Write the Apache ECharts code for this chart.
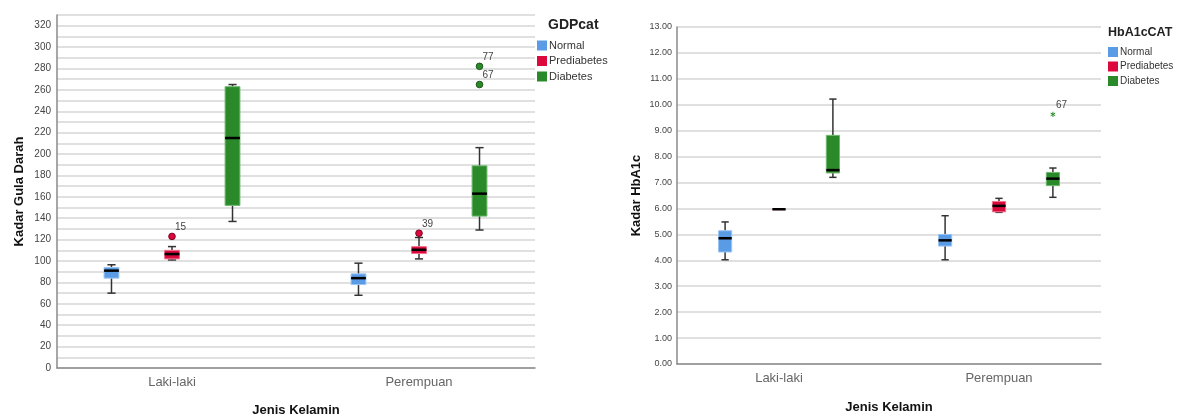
<!DOCTYPE html>
<html><head><meta charset="utf-8">
<script src="https://cdn.jsdelivr.net/npm/echarts@6/dist/echarts.min.js"></script>
<style>html,body{margin:0;padding:0;background:#fff}#c{width:1177px;height:414px}</style>
</head><body><div id="c"></div>
<script>
// ---------- DATA ----------
const categories = ['Laki-laki', 'Perempuan'];
const groupNames = ['Normal', 'Prediabetes', 'Diabetes'];

// Kadar Gula Darah (GDP) — [min, Q1, median, Q3, max] per category
const gdpNormal      = [[70, 84, 91, 94, 96.5], [68, 78, 84, 88, 98]];
const gdpPrediabetes = [[101, 102, 106.5, 110, 113.5], [102, 107, 110.5, 113.5, 122]];
const gdpDiabetes    = [[137, 152, 215, 263, 265], [129, 142, 163, 189, 206]];
// GDP outliers
const gdpOutCat    = [0, 1, 1, 1];
const gdpOutGroup  = [1, 1, 2, 2];
const gdpOutValue  = [123, 126, 282, 265];
const gdpOutLabel  = ['15', '39', '77', '67'];

// Kadar HbA1c — [min, Q1, median, Q3, max] per category
const hbNormal      = [[4.02, 4.32, 4.85, 5.14, 5.48], [4.02, 4.55, 4.77, 5.0, 5.72]];
const hbPrediabetes = [[5.97, 5.97, 5.97, 5.97, 5.97], [5.85, 5.87, 6.1, 6.27, 6.39]];
const hbDiabetes    = [[7.2, 7.37, 7.48, 8.82, 10.22], [6.43, 6.88, 7.15, 7.39, 7.56]];
// HbA1c extreme values
const hbOutCat   = [1];
const hbOutGroup = [2];
const hbOutValue = [9.63];
const hbOutLabel = ['67'];

// ---------- STYLE ----------
const FONT = "'Liberation Sans', Arial, sans-serif";
const fills   = ['#5a9be6', '#dc0a3c', '#2a8a2a'];
const strokes = ['#9cc4f2', '#f0728f', '#6fb86f'];
const darkPt  = ['#2a5f9e', '#7a0020', '#1a5a1a'];
const OFFSET = 0.245;  // group offset as share of band width
const BOXW = 0.06;     // box width as share of band width

function toRows(arr) { return arr.map((r, i) => [i].concat(r)); }

function boxRender(k) {
  return function (params, api) {
    const cat = api.value(0);
    const band = api.size([1, 0])[0];
    const cx = api.coord([cat, 0])[0] + (k - 1) * OFFSET * band;
    const w = BOXW * band;
    const y = i => api.coord([cat, api.value(i)])[1];
    const yMin = y(1), yQ1 = y(2), yMed = y(3), yQ3 = y(4), yMax = y(5);
    const capW = w * 0.55;
    const ws = { stroke: '#333', lineWidth: 1.5 };
    return { type: 'group', children: [
      { type: 'line', shape: { x1: cx, y1: yMax, x2: cx, y2: yQ3 }, style: ws },
      { type: 'line', shape: { x1: cx, y1: yQ1, x2: cx, y2: yMin }, style: ws },
      { type: 'line', shape: { x1: cx - capW / 2, y1: yMax, x2: cx + capW / 2, y2: yMax }, style: ws },
      { type: 'line', shape: { x1: cx - capW / 2, y1: yMin, x2: cx + capW / 2, y2: yMin }, style: ws },
      { type: 'rect', shape: { x: cx - w / 2, y: yQ3, width: w, height: Math.max(yQ1 - yQ3, 0.5) },
        style: { fill: fills[k], stroke: strokes[k], lineWidth: 1 } },
      { type: 'line', shape: { x1: cx - w / 2, y1: yMed, x2: cx + w / 2, y2: yMed },
        style: { stroke: '#000', lineWidth: 2.5 } }
    ]};
  };
}

function outRender(groups, labels, star) {
  return function (params, api) {
    const cat = api.value(0);
    const g = groups[params.dataIndex];
    const band = api.size([1, 0])[0];
    const p = api.coord([cat, api.value(1)]);
    const cx = p[0] + (g - 1) * OFFSET * band, cy = p[1];
    const children = [];
    if (star) {
      const r = 2.6;
      for (let a = 0; a < 3; a++) {
        const ang = Math.PI / 2 + a * Math.PI / 3;
        children.push({ type: 'line', shape: { x1: cx - r * Math.cos(ang), y1: cy - r * Math.sin(ang), x2: cx + r * Math.cos(ang), y2: cy + r * Math.sin(ang) },
          style: { stroke: fills[g], lineWidth: 1 } });
      }
    } else {
      children.push({ type: 'circle', shape: { cx: cx, cy: cy, r: 3.3 }, style: { fill: fills[g], stroke: darkPt[g], lineWidth: 1 } });
    }
    children.push({ type: 'text', x: cx + 3, y: cy - 9,
      style: { text: labels[params.dataIndex], fill: '#444', font: '10px ' + FONT, verticalAlign: 'middle', align: 'left' } });
    return { type: 'group', children: children };
  };
}

const nameStyle = { color: '#111', fontSize: 13, fontWeight: 'bold', fontFamily: FONT };
// visible frame axes (gridlines, axis lines, titles)
function frameX(gridIndex, gap) {
  return {
    type: 'category', gridIndex: gridIndex, data: categories,
    axisTick: { show: false }, axisLabel: { show: false },
    axisLine: { lineStyle: { color: '#8a8a8a', width: 1.5 } },
    name: 'Jenis Kelamin', nameLocation: 'middle', nameGap: gap, nameTextStyle: nameStyle
  };
}
// box placement axes (carry the category labels)
function boxX(gridIndex) {
  return {
    type: 'category', gridIndex: gridIndex, data: categories,
    axisTick: { show: false }, axisLine: { show: false },
    axisLabel: { color: '#666', fontSize: 13, fontFamily: FONT, margin: 8 }
  };
}
function hiddenY(gridIndex, max) {
  return { type: 'value', gridIndex: gridIndex, min: 0, max: max, show: false, splitLine: { show: false } };
}

const option = {
  animation: false,
  backgroundColor: '#fff',
  title: [
    { text: 'GDPcat', left: 548, top: 18, padding: 0, textStyle: { fontSize: 14, fontWeight: 'bold', color: '#222', fontFamily: FONT } },
    { text: 'HbA1cCAT', left: 1108, top: 26, padding: 0, textStyle: { fontSize: 12.5, fontWeight: 'bold', color: '#222', fontFamily: FONT } }
  ],
  legend: [
    { data: groupNames, orient: 'vertical', left: 537, top: 40, padding: 0, icon: 'rect', itemWidth: 10, itemHeight: 10, itemGap: 4.5,
      selectedMode: false, textStyle: { fontSize: 11, color: '#333', fontFamily: FONT, padding: [0, 0, 0, -3] } },
    { data: groupNames, orient: 'vertical', left: 1108, top: 47, padding: 0, icon: 'rect', itemWidth: 10, itemHeight: 10, itemGap: 4.5,
      selectedMode: false, textStyle: { fontSize: 10, color: '#333', fontFamily: FONT, padding: [0, 0, 0, -3] } }
  ],
  grid: [
    { left: 57, right: 642, top: 15, bottom: 46, outerBoundsMode: 'none', containLabel: false },
    { left: 677, right: 76, top: 27, bottom: 50, outerBoundsMode: 'none', containLabel: false },
    { left: 48.5, right: 634.5, top: 15, bottom: 46, outerBoundsMode: 'none', containLabel: false },
    { left: 669, right: 68, top: 27, bottom: 50, outerBoundsMode: 'none', containLabel: false }
  ],
  xAxis: [frameX(0, 36), frameX(1, 37), boxX(2), boxX(3)],
  yAxis: [
    { type: 'value', gridIndex: 0, min: 0, max: 330, interval: 10,
      axisLine: { show: true, lineStyle: { color: '#8a8a8a', width: 1.5 } }, axisTick: { show: false },
      axisLabel: { color: '#444', fontSize: 10, fontFamily: FONT, margin: 6, formatter: v => (v % 20 === 0 ? String(v) : '') },
      splitLine: { lineStyle: { color: '#d6d6d6', width: 1.5 } },
      name: 'Kadar Gula Darah', nameLocation: 'middle', nameGap: 31, nameTextStyle: nameStyle },
    { type: 'value', gridIndex: 1, min: 0, max: 13, interval: 1,
      axisLine: { show: true, lineStyle: { color: '#8a8a8a', width: 1.5 } }, axisTick: { show: false },
      axisLabel: { color: '#444', fontSize: 9, fontFamily: FONT, margin: 5, formatter: v => v.toFixed(2) },
      splitLine: { lineStyle: { color: '#d6d6d6', width: 1.5 } },
      name: 'Kadar HbA1c', nameLocation: 'middle', nameGap: 34, nameTextStyle: nameStyle },
    hiddenY(2, 330),
    hiddenY(3, 13)
  ],
  series: []
};

// frame series (keeps the visible grids bound to an axis pair)
option.series.push({ type: 'line', xAxisIndex: 0, yAxisIndex: 0, data: [], silent: true });
option.series.push({ type: 'line', xAxisIndex: 1, yAxisIndex: 1, data: [], silent: true });

const gdpSets = [gdpNormal, gdpPrediabetes, gdpDiabetes];
const hbSets = [hbNormal, hbPrediabetes, hbDiabetes];
[gdpSets, hbSets].forEach((sets, gi) => {
  sets.forEach((set, k) => {
    option.series.push({
      type: 'custom', name: groupNames[k], xAxisIndex: gi + 2, yAxisIndex: gi + 2,
      itemStyle: { color: fills[k] },
      data: toRows(set), encode: { x: 0, y: [1, 2, 3, 4, 5] },
      renderItem: boxRender(k)
    });
  });
});
option.series.push({
  type: 'custom', name: 'gdp-outliers', xAxisIndex: 2, yAxisIndex: 2,
  data: gdpOutCat.map((c, i) => [c, gdpOutValue[i]]), encode: { x: 0, y: 1 },
  renderItem: outRender(gdpOutGroup, gdpOutLabel, false)
});
option.series.push({
  type: 'custom', name: 'hb-outliers', xAxisIndex: 3, yAxisIndex: 3,
  data: hbOutCat.map((c, i) => [c, hbOutValue[i]]), encode: { x: 0, y: 1 },
  renderItem: outRender(hbOutGroup, hbOutLabel, true)
});

const chart = echarts.init(document.getElementById('c'), null, { renderer: 'canvas' });
chart.setOption(option);
</script>
</body></html>
